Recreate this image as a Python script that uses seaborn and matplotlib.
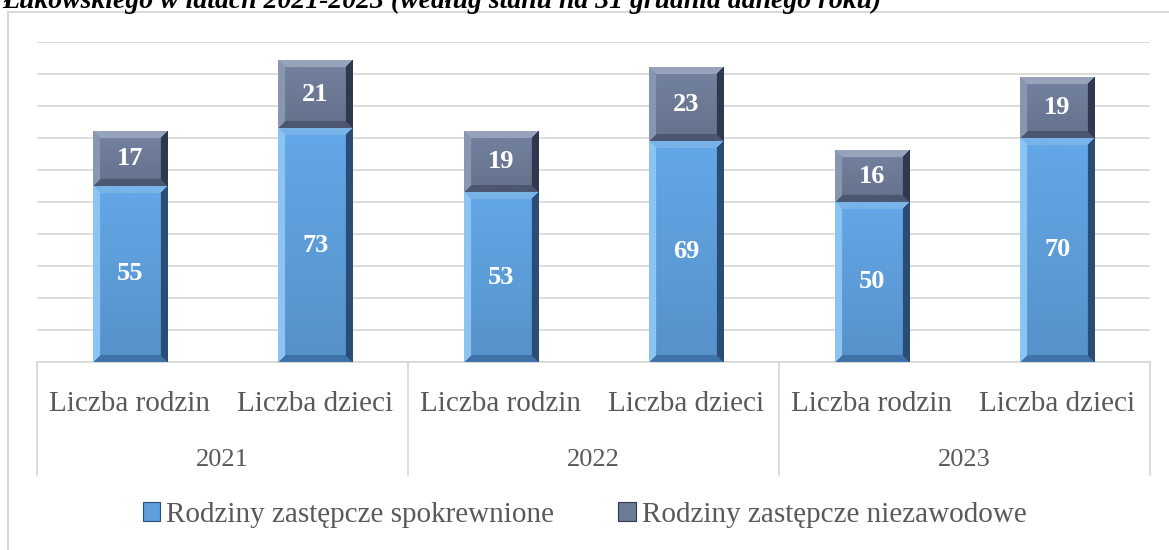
import numpy as np
import pandas as pd
import matplotlib
matplotlib.use("Agg")
import matplotlib.pyplot as plt
import seaborn as sns
from matplotlib.lines import Line2D
from matplotlib.patches import Patch
from matplotlib.colors import to_rgb
from matplotlib.transforms import blended_transform_factory


YEARS = ["2021", "2022", "2023"]
CATEGORIES = ["Liczba rodzin", "Liczba dzieci"]
SPOKREWNIONE = [55, 73, 53, 69, 50, 70]
NIEZAWODOWE = [17, 21, 19, 23, 16, 19]
SERIES = ["Rodziny zastępcze spokrewnione", "Rodziny zastępcze niezawodowe"]
TITLE = "Łukowskiego w latach 2021-2023 (według stanu na 31 grudnia danego roku)"

BLUE = {"main": "#5d9edb", "left": "#8cc4f2", "right": "#2b4d75", "top": "#79b3e8", "bottom": "#3f72a8"}
SLATE = {"main": "#6d7b97", "left": "#8996b1", "right": "#2e394e", "top": "#97a3bb", "bottom": "#4b5670"}
GRID = "#d9d9d9"
TEXT = "#595959"
SERIF = ["Liberation Serif", "DejaVu Serif"]


def bevel(ax, x0, w, y_lo, y_hi, pal, z, bev_px=7):
    # pseudo-3D bevel like the office chart, drawn as an image over the bar
    (px0, py0), (px1, py1) = ax.transData.transform([(x0, y_lo), (x0 + w, y_hi)])
    nx, ny = max(int(round(px1 - px0)), 2), max(int(round(py1 - py0)), 2)
    xx, yy = np.meshgrid(np.arange(nx) + 0.5, np.arange(ny) + 0.5)
    d = np.stack([xx, nx - xx, ny - yy, yy])
    edge = d.argmin(axis=0)
    near = d.min(axis=0) < bev_px
    main = np.array(to_rgb(pal["main"]))
    fade = 1.06 - 0.14 * (1 - yy / ny)
    img = np.clip(main * fade[..., None], 0, 1)
    cols = np.array([to_rgb(pal[k]) for k in ("left", "right", "top", "bottom")])
    img = np.where(near[..., None], cols[edge], img)
    ax.imshow(img, extent=[x0, x0 + w, y_lo, y_hi], origin="lower", aspect="auto",
              interpolation="bilinear", zorder=z)


sns.set_theme(style="white")
plt.rcParams["font.family"] = SERIF

slots = [f"{y}|{c}" for y in YEARS for c in CATEGORIES]
df = pd.DataFrame({
    "slot": slots,
    "spokrewnione": SPOKREWNIONE,
    "niezawodowe": NIEZAWODOWE,
})
df["total"] = df["spokrewnione"] + df["niezawodowe"]

W, H = 1169, 550
fig = plt.figure(figsize=(W / 100, H / 100), dpi=100)
fig.patch.set_facecolor("white")
ax = fig.add_axes([37 / W, (H - 362) / H, (1150 - 37) / W, 320 / H])

sns.barplot(data=df, x="slot", y="total", order=slots, color=SLATE["main"],
            saturation=1, width=0.4, ax=ax)
sns.barplot(data=df, x="slot", y="spokrewnione", order=slots, color=BLUE["main"],
            saturation=1, width=0.4, ax=ax)

ax.set_xlim(-0.5, len(slots) - 0.5)
ax.set_ylim(0, 100)
ax.yaxis.grid(True, color=GRID, linewidth=1.3)
ax.set_axisbelow(True)
for s in ["left", "right", "top"]:
    ax.spines[s].set_visible(False)
ax.spines["bottom"].set_color(GRID)
ax.spines["bottom"].set_linewidth(1.3)
ax.set_xticks([])
ax.set_yticks(np.arange(0, 101, 10), labels=[])
ax.tick_params(length=0)
ax.set_xlabel("")
ax.set_ylabel("")

tot_bars, spk_bars = ax.containers[0], ax.containers[1]
for tb, sb, spk, nz in zip(tot_bars, spk_bars, df["spokrewnione"], df["niezawodowe"]):
    x0, w = sb.get_x(), sb.get_width()
    bevel(ax, x0, w, 0, sb.get_height(), BLUE, 3)
    bevel(ax, x0, w, sb.get_height(), tb.get_height(), SLATE, 3)
    tb.set_visible(False)
    sb.set_visible(False)
    xc = x0 + w / 2
    ax.text(xc, spk / 2, f"{spk}", ha="center", va="center", color="white",
            fontsize=19, fontweight="bold", zorder=5)
    ax.text(xc, spk + nz / 2, f"{nz}", ha="center", va="center", color="white",
            fontsize=19, fontweight="bold", zorder=5)

# two-level category axis
tr = blended_transform_factory(ax.transData, ax.transAxes)
y_box = -(475 - 362) / 320
for xb in np.arange(-0.5, len(slots), 2):
    ax.plot([xb, xb], [0, y_box], transform=tr, color=GRID, lw=1.3, clip_on=False)
for i, s in enumerate(slots):
    ax.text(i, -(404 - 362) / 320, s.split("|")[1], transform=tr, ha="center",
            va="center", fontsize=21, color=TEXT)
for j, y in enumerate(YEARS):
    ax.text(2 * j + 0.5, -(460 - 362) / 320, y, transform=tr, ha="center",
            va="center", fontsize=19, color=TEXT)

# chart frame
fig.add_artist(Line2D([8 / W, 8 / W], [0, 1 - 12 / H], color=GRID, lw=1.5))
fig.add_artist(Line2D([8 / W, 1], [1 - 12 / H, 1 - 12 / H], color=GRID, lw=1.5))

handles = [Patch(facecolor=BLUE["main"], edgecolor=BLUE["right"], lw=0.8),
           Patch(facecolor=SLATE["main"], edgecolor=SLATE["right"], lw=0.8)]
fig.legend(handles, SERIES, loc="center", bbox_to_anchor=(0.5, 1 - 515 / H), ncol=2,
           frameon=False, fontsize=21, handlelength=0.6, handleheight=0.6,
           handletextpad=0.2, columnspacing=2.2, labelcolor=TEXT)

# the heading is cropped at the top edge in the source image
fig.text(0.002, 1 - 8 / H, TITLE, ha="left", va="baseline", fontsize=20,
         fontweight="bold", fontstyle="italic", color="black")

fig.savefig("out.png", dpi=100)
